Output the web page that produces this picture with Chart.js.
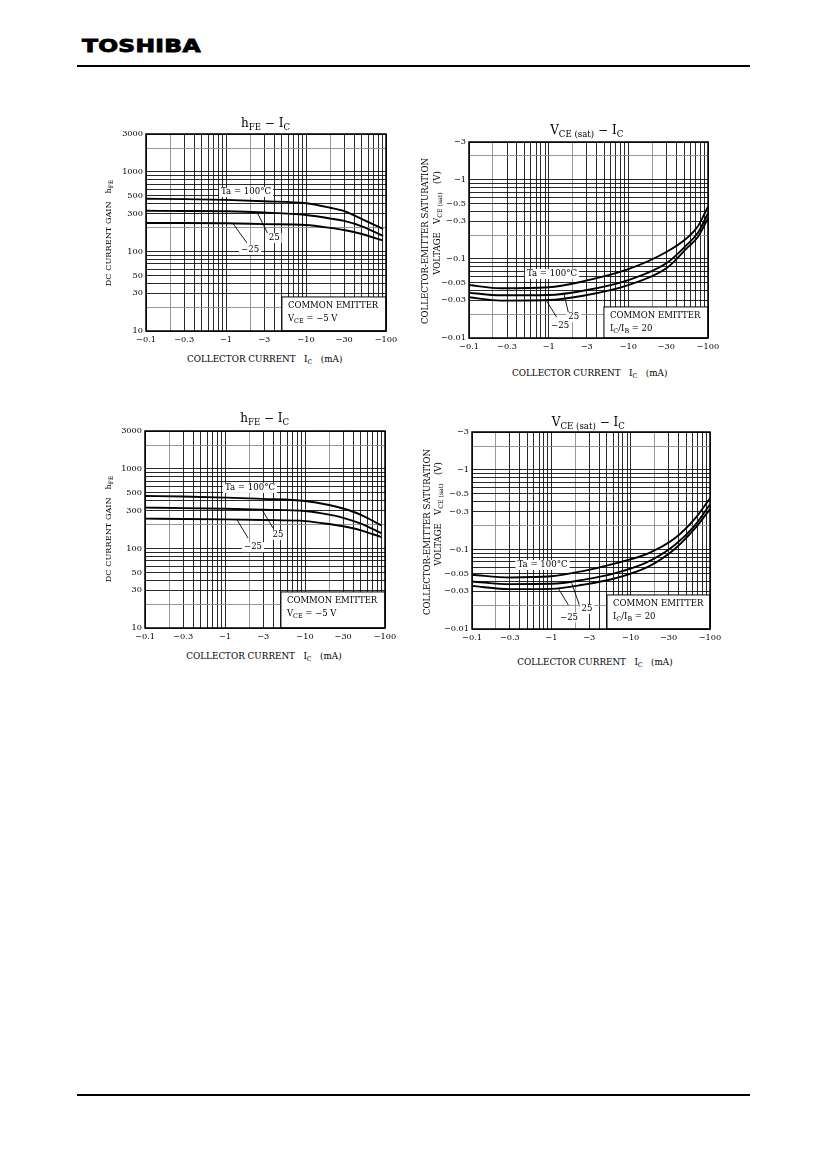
<!DOCTYPE html>
<html><head><meta charset="utf-8">
<script src="https://cdn.jsdelivr.net/npm/chart.js@4/dist/chart.umd.min.js"></script>
<style>
html,body{margin:0;padding:0;background:#fff;}
body{width:827px;height:1169px;position:relative;overflow:hidden;font-family:"DejaVu Serif",serif;color:#000;}
.t{position:absolute;white-space:nowrap;transform:translate(-50%,-50%);line-height:1;}
.r{transform:translate(-50%,-50%) rotate(-90deg);}
.sb{font-size:0.72em;position:relative;top:0.35em;}
.ttl{font-size:12px;}
.ax{font-size:8.8px;}
.ayh{font-size:8.2px;}
.ayv{font-size:8.6px;}
canvas{position:absolute;}
.hl{position:absolute;height:1.5px;background:#000;}
#logo{position:absolute;left:82px;top:37px;font-family:"DejaVu Sans",sans-serif;font-weight:bold;font-size:18px;line-height:18px;transform-origin:left top;transform:scaleX(1.3);letter-spacing:0.2px;-webkit-text-stroke:0.9px #000;}
</style>
</head><body>
<div id="logo">TOSHIBA</div>
<div class="hl" style="left:77px;top:65px;width:673px;"></div>
<div class="hl" style="left:77px;top:1094px;width:673px;"></div>
<script>
// ---------- data ----------
const currentTicks = [0.1, 0.3, 1, 3, 10, 30, 100];
const hfeTicks = [10, 30, 50, 100, 300, 500, 1000, 3000];
const vceTicks = [0.01, 0.03, 0.05, 0.1, 0.3, 0.5, 1, 3];
const tempLabels = ['100', '25', '-25'];

// top-left: hFE - IC
const hfeCurrentA = [0.1, 0.3, 1, 3, 10, 20, 30, 50, 92];
const hfeA100 = [460, 455, 445, 428, 404, 355, 322, 255, 192];
const hfeA25  = [325, 323, 320, 309, 288, 260, 242, 207, 157];
const hfeAm25 = [228, 228, 226, 221, 215, 198, 186, 166, 137];

// top-right: VCE(sat) - IC  (magnitudes, axis labelled negative)
const vceCurrentB = [0.1, 0.25, 1, 2.6, 10, 30, 54, 75, 100];
const vceB100 = [0.0467, 0.0425, 0.0437, 0.0515, 0.074, 0.122, 0.182, 0.26, 0.457];
const vceB25  = [0.0374, 0.0347, 0.035, 0.0393, 0.054, 0.088, 0.15, 0.215, 0.377];
const vceBm25 = [0.0327, 0.0297, 0.0302, 0.034, 0.0467, 0.076, 0.136, 0.19, 0.327];

// bottom-left: hFE - IC
const hfeCurrentC = [0.1, 0.3, 1, 3, 10, 20, 30, 50, 90];
const hfeC100 = [457, 450, 436, 420, 395, 352, 318, 265, 195];
const hfeC25  = [326, 322, 316, 308, 296, 266, 243, 205, 156];
const hfeCm25 = [237, 235, 232, 228, 221, 203, 190, 169, 139];

// bottom-right: VCE(sat) - IC
const vceCurrentD = [0.1, 0.3, 1, 2.5, 6.4, 16.7, 36, 65, 100];
const vceD100 = [0.048, 0.0445, 0.046, 0.0535, 0.067, 0.0895, 0.138, 0.246, 0.439];
const vceD25  = [0.0395, 0.0367, 0.037, 0.0415, 0.0504, 0.0705, 0.114, 0.203, 0.368];
const vceDm25 = [0.0349, 0.0317, 0.032, 0.036, 0.0435, 0.061, 0.1016, 0.185, 0.322];

// ---------- annotations (data coordinates) ----------
const boxHfe = [[['COMMON EMITTER',0]], [['V',0],['CE',1],[' = \u22125 V',0]]];
const boxVce = [[['COMMON EMITTER',0]], [['I',0],['C',1],['/I',0],['B',1],[' = 20',0]]];
const ANN = {
  cA: { labels:[['Ta = 100\u00B0C',1.78,560],['25',4.0,148],['\u221225',2.0,105]],
        leaders:[[2.44,312,3.35,166],[1.22,225,1.83,128]], box:[5.0,26.8], lines:boxHfe },
  cB: { labels:[['Ta = 100\u00B0C',1.1,0.0644],['25',2.07,0.0184],['\u221225',1.39,0.0142]],
        leaders:[[1.56,0.0355,1.8,0.0195],[0.925,0.0302,1.26,0.0183]], box:[4.94,0.0247], lines:boxVce },
  cC: { labels:[['Ta = 100\u00B0C',2.05,577],['25',4.6,148],['\u221225',2.24,104]],
        leaders:[[2.9,308,3.98,181],[1.41,230,1.94,135]], box:[5.0,28.4], lines:boxHfe },
  cD: { labels:[['Ta = 100\u00B0C',0.775,0.0638],['25',2.82,0.0179],['\u221225',1.67,0.014]],
        leaders:[[1.81,0.0375,2.3,0.019],[1.22,0.0327,1.64,0.02]], box:[5.03,0.0268], lines:boxVce }
};

// ---------- helpers ----------
function decadeGrid(min, max){
  const out=[];
  for(let e=Math.floor(Math.log10(min)+1e-9); e<=Math.ceil(Math.log10(max)-1e-9); e++){
    for(let m=1;m<10;m++){
      const v=+(m*Math.pow(10,e)).toPrecision(3);
      if(v>=min*0.999 && v<=max*1.001) out.push(v);
    }
  }
  return out;
}
function hasTick(list,v){ return list.some(t=>Math.abs(t-v)/t<1e-6); }
function fmt(v){ return String(+v.toPrecision(3)); }
function gridColor(ctx){
  const v = ctx.tick && ctx.tick.value;
  if(v==null) return '#111';
  const m = v/Math.pow(10,Math.floor(Math.log10(v)+1e-9));
  return Math.abs(m-2)<0.01 ? '#8c8c8c' : '#111';
}
const FONT='"DejaVu Serif"';

const framePlugin = { id:'frame', afterDraw(chart){
  const {ctx, chartArea:a}=chart;
  ctx.save(); ctx.strokeStyle='#000'; ctx.lineWidth=1.5;
  ctx.strokeRect(a.left, a.top, a.right-a.left, a.bottom-a.top); ctx.restore();
}};
const annotPlugin = { id:'annot', afterDatasetsDraw(chart){
  const ann = ANN[chart.canvas.id]; if(!ann) return;
  const {ctx, chartArea:a, scales:{x,y}} = chart;
  ctx.save();
  ctx.strokeStyle='#000'; ctx.lineWidth=0.9;
  ann.leaders.forEach(([x1,y1,x2,y2])=>{
    ctx.beginPath();
    ctx.moveTo(x.getPixelForValue(x1), y.getPixelForValue(y1));
    ctx.lineTo(x.getPixelForValue(x2), y.getPixelForValue(y2));
    ctx.stroke();
  });
  ctx.font='8.6px '+FONT; ctx.textBaseline='middle'; ctx.textAlign='center';
  ann.labels.forEach(([t,lx,ly])=>{
    const px=x.getPixelForValue(lx), py=y.getPixelForValue(ly);
    const w=ctx.measureText(t).width;
    ctx.fillStyle='#fff'; ctx.fillRect(px-w/2-2, py-5, w+4, 10);
    ctx.fillStyle='#000'; ctx.fillText(t, px, py);
  });
  const bx=x.getPixelForValue(ann.box[0]), by=y.getPixelForValue(ann.box[1]);
  ctx.fillStyle='#fff'; ctx.fillRect(bx, by, a.right-bx, a.bottom-by);
  ctx.strokeStyle='#000'; ctx.lineWidth=1; ctx.strokeRect(bx, by, a.right-bx, a.bottom-by);
  ctx.textAlign='left'; ctx.fillStyle='#000';
  ann.lines.forEach((segs,i)=>{
    let cx=bx+6; const cy=by+8.5+i*13.5;
    segs.forEach(([t,sub])=>{
      ctx.font=(sub?'6.4px ':'8.5px ')+FONT;
      ctx.fillText(t, cx, cy+(sub?2.5:0));
      cx+=ctx.measureText(t).width;
    });
  });
  ctx.restore();
}};

function makeChart(id, rect, kind, xs, series){
  const [L,T,R,B]=rect;
  const YW=46, XH=18, PT=8, PR=16;
  const W=R-L+YW+PR, H=B-T+PT+XH;
  const cv=document.createElement('canvas');
  cv.id=id; cv.width=W; cv.height=H;
  cv.style.left=(L-YW)+'px'; cv.style.top=(T-PT)+'px';
  cv.style.width=W+'px'; cv.style.height=H+'px';
  document.body.appendChild(cv);
  const isV = kind==='vce';
  const yLab = isV ? vceTicks : hfeTicks;
  const yMin = yLab[0], yMax = yLab[yLab.length-1];
  const xMin = currentTicks[0], xMax = currentTicks[currentTicks.length-1];
  new Chart(cv, {
    type:'line',
    data:{ datasets: series.map((arr,i)=>({
      label:'Ta = '+tempLabels[i],
      data: xs.map((xv,j)=>({x:xv, y:arr[j]})),
      borderColor:'#000', borderWidth:1.9, pointRadius:0,
      cubicInterpolationMode:'monotone', fill:false
    }))},
    options:{
      responsive:false, animation:false,
      layout:{padding:{left:0, top:PT, right:PR, bottom:0}},
      plugins:{legend:{display:false}, tooltip:{enabled:false}},
      scales:{
        x:{ type:'logarithmic', min:xMin, max:xMax,
          afterBuildTicks:s=>{ s.ticks=decadeGrid(xMin,xMax).map(v=>({value:v})); },
          afterFit:s=>{ s.height=XH; },
          ticks:{ autoSkip:false, maxRotation:0, minRotation:0, padding:4, color:'#000',
            font:{family:'DejaVu Serif', size:8.2},
            callback:v=> hasTick(currentTicks,v) ? '\u2212'+fmt(v) : '' },
          grid:{ drawTicks:false, color:gridColor, lineWidth:0.9 },
          border:{ display:false } },
        y:{ type:'logarithmic', min:yMin, max:yMax,
          afterBuildTicks:s=>{ s.ticks=decadeGrid(yMin,yMax).map(v=>({value:v})); },
          afterFit:s=>{ s.width=YW; },
          ticks:{ autoSkip:false, padding:3, color:'#000',
            font:{family:'DejaVu Serif', size:8.2},
            callback:v=> hasTick(yLab,v) ? (isV?'\u2212':'')+fmt(v) : '' },
          grid:{ drawTicks:false, color:gridColor, lineWidth:0.9 },
          border:{ display:false } }
      }
    },
    plugins:[annotPlugin, framePlugin]
  });
}

makeChart('cA',[146,134,386,331],'hfe',hfeCurrentA,[hfeA100,hfeA25,hfeAm25]);
makeChart('cB',[469,142,708,338],'vce',vceCurrentB,[vceB100,vceB25,vceBm25]);
makeChart('cC',[145,431,385,628],'hfe',hfeCurrentC,[hfeC100,hfeC25,hfeCm25]);
makeChart('cD',[472,432,710,629],'vce',vceCurrentD,[vceD100,vceD25,vceDm25]);

// ---------- text ----------
function txt(html, x, y, cls){
  const d=document.createElement('div');
  d.className='t '+cls; d.innerHTML=html;
  d.style.left=x+'px'; d.style.top=y+'px';
  document.body.appendChild(d);
}
const tHfe='h<span class="sb">FE</span> &minus; I<span class="sb">C</span>';
const tVce='V<span class="sb">CE (sat)</span> &minus; I<span class="sb">C</span>';
const xT='COLLECTOR CURRENT&nbsp;&nbsp;&nbsp;I<span class="sb">C</span>&nbsp;&nbsp;&nbsp;(mA)';
const yH='DC CURRENT GAIN&nbsp;&nbsp;&nbsp;h<span class="sb">FE</span>';
const yV1='COLLECTOR-EMITTER SATURATION';
const yV2='VOLTAGE&nbsp;&nbsp;&nbsp;V<span class="sb">CE (sat)</span>&nbsp;&nbsp;&nbsp;(V)';

txt(tHfe,265.5,123,'ttl'); txt(tVce,586.7,130,'ttl');
txt(tHfe,264.7,418,'ttl'); txt(tVce,588.3,422,'ttl');
txt(xT,264.7,359,'ax'); txt(xT,589.7,372.5,'ax');
txt(xT,264,656,'ax'); txt(xT,595,662,'ax');
txt(yH,108.3,232.5,'ayh r'); txt(yH,108.3,529,'ayh r');
txt(yV1,425,240.7,'ayv r'); txt(yV2,436.7,223.3,'ayv r');
txt(yV1,426.7,531.7,'ayv r'); txt(yV2,438.3,514.2,'ayv r');
</script>
</body></html>
